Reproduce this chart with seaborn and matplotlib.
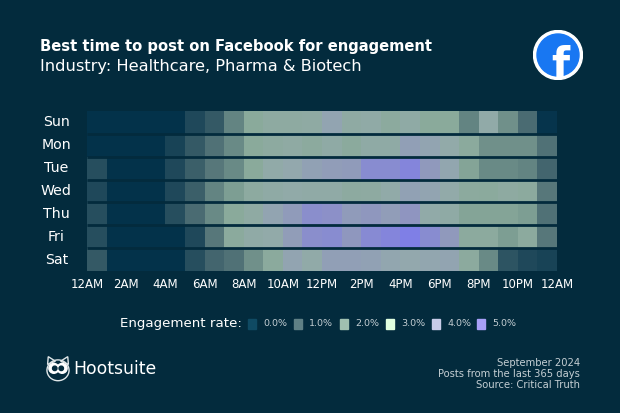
import numpy as np
import pandas as pd
import seaborn as sns
import matplotlib.pyplot as plt
from matplotlib.colors import LinearSegmentedColormap
from matplotlib.patches import Circle, Ellipse, Polygon, Rectangle

days = ['Sun', 'Mon', 'Tue', 'Wed', 'Thu', 'Fri', 'Sat']
hour_labels = ['12AM', '2AM', '4AM', '6AM', '8AM', '10AM', '12PM', '2PM', '4PM',
               '6PM', '8PM', '10PM', '12AM']

# engagement rate per hour
sun = [0, 0, 0, 0, 0, .4, .7, 1.4, 2.0, 2.4, 2.4, 2.5, 3.3, 2.5, 2.7, 2.2, 2.6, 2.0, 2.0, 1.4, 2.8, 1.6, 1.0, .05]
mon = [0, 0, 0, 0, .3, .7, 1.1, 1.5, 2.0, 2.3, 2.5, 2.2, 2.6, 2.1, 2.6, 2.6, 3.5, 3.3, 2.9, 2.1, 1.6, 1.6, 1.6, 1.1]
tue = [.5, 0, 0, 0, .4, .8, 1.2, 1.5, 2.0, 2.8, 3.1, 3.4, 3.6, 3.7, 4.4, 4.4, 4.7, 3.8, 3.2, 1.9, 1.5, 1.5, 1.4, .9]
wed = [.4, 0, 0, 0, .4, .8, 1.4, 1.8, 2.3, 2.6, 2.8, 2.7, 2.7, 2.3, 2.4, 2.8, 3.4, 3.3, 2.9, 2.2, 2.1, 2.4, 2.2, 1.2]
thu = [.5, 0, 0, 0, .5, 1.0, 1.5, 2.0, 2.5, 3.3, 3.7, 4.3, 4.2, 3.7, 3.9, 3.6, 4.0, 2.8, 2.6, 1.9, 1.9, 1.9, 1.8, 1.1]
fri = [.5, 0, 0, 0, 0, .4, 1.2, 2.1, 2.7, 2.9, 3.6, 4.3, 4.4, 3.9, 4.5, 4.7, 5.0, 4.4, 3.8, 2.2, 2.2, 1.8, 2.2, 1.2]
sat = [.7, 0, 0, 0, 0, .5, .9, 1.1, 1.6, 2.1, 3.3, 2.8, 3.5, 3.5, 3.4, 3.2, 3.1, 3.2, 3.3, 2.2, 1.5, .6, .4, .3]

legend_labels = ['0.0%', '1.0%', '2.0%', '3.0%', '4.0%', '5.0%']
legend_colors = ['#0f4a63', '#5f8085', '#a0c0b0', '#e0ffe0', '#c8cce8', '#a8a0f8']
cell_colors = ['#03324a', '#4a6b72', '#8aaa9b', '#93aaab', '#8f95c0', '#7f7fe6']

BG = '#032b3d'
W, H = 620, 413


def fx(px):
    return px / W


def fy(px):
    return 1 - px / H


sns.set_theme(style='white')
plt.rcParams['font.family'] = ['DejaVu Sans']

df = pd.DataFrame([sun, mon, tue, wed, thu, fri, sat], index=days)
cmap = LinearSegmentedColormap.from_list('engagement', cell_colors)

fig = plt.figure(figsize=(6.2, 4.13), dpi=100, facecolor=BG)
ax = fig.add_axes([fx(87), fy(271), fx(557) - fx(87), fy(111) - fy(271)])
sns.heatmap(df, ax=ax, cmap=cmap, vmin=0, vmax=5, cbar=False)

ax.hlines(range(1, len(days)), 0, 24, color=BG, linewidth=2)
ax.set_xticks(np.arange(0, 25, 2))
ax.set_xticklabels(hour_labels, rotation=0, color='white', fontsize=8.5)
ax.set_yticklabels(days, rotation=0, color='white', fontsize=10.2, ha='center')
ax.tick_params(length=0)
ax.tick_params(axis='x', pad=5)
ax.tick_params(axis='y', pad=22)
ax.set_xlabel('')
ax.set_ylabel('')

# titles
fig.text(fx(40), fy(47), 'Best time to post on Facebook for engagement', color='white',
         fontsize=10.6, fontweight='bold', va='center')
fig.text(fx(40), fy(66), 'Industry: Healthcare, Pharma & Biotech', color='white',
         fontsize=11.7, va='center')

# legend
fig.text(fx(120), fy(324), 'Engagement rate:', color='white', fontsize=9.6, va='center')
for x, lab, col in zip([248, 294, 340, 386, 432, 477], legend_labels, legend_colors):
    fig.add_artist(Rectangle((fx(x), fy(329)), 8 / W, 10 / H, color=col, transform=fig.transFigure))
    fig.text(fx(x + 15), fy(324), lab, color='#c4ced3', fontsize=6.8, va='center')

# facebook badge
badge = fig.add_axes([fx(533), fy(80), 50 / W, 50 / H])
badge.set_xlim(-1, 1)
badge.set_ylim(-1, 1)
badge.axis('off')
badge.add_patch(Circle((0, 0), 0.98, color='white'))
inner = Circle((0, 0), 0.84, color='#1877f2')
badge.add_patch(inner)
f_glyph = badge.text(0.08, -0.92, 'f', color='white', fontsize=30, fontweight='bold', ha='center', va='baseline')
f_glyph.set_clip_path(inner)

# hootsuite mark
owl = fig.add_axes([fx(45), fy(382), 26 / W, 26 / H])
owl.set_xlim(-1, 1)
owl.set_ylim(-1, 1)
owl.axis('off')
owl.add_patch(Ellipse((0, -0.1), 1.7, 1.6, fill=False, ec='#dfe6e8', lw=1))
owl.add_patch(Polygon([(-0.8, 0.35), (-0.75, 0.95), (-0.2, 0.6)], fill=False, ec='#dfe6e8', lw=1))
owl.add_patch(Polygon([(0.8, 0.35), (0.75, 0.95), (0.2, 0.6)], fill=False, ec='#dfe6e8', lw=1))
owl.add_patch(Circle((-0.32, 0.05), 0.38, color='white'))
owl.add_patch(Circle((0.32, 0.05), 0.38, color='white'))
owl.add_patch(Circle((-0.25, 0.05), 0.17, color=BG))
owl.add_patch(Circle((0.25, 0.05), 0.17, color=BG))
fig.text(fx(73), fy(369), 'Hootsuite', color='white', fontsize=12.4, va='center')

# source note
for y, line in zip([363, 374, 385], ['September 2024', 'Posts from the last 365 days', 'Source: Critical Truth']):
    fig.text(fx(580), fy(y), line, color='#c4ced3', fontsize=7.2, ha='right', va='center')

fig.savefig('out.png', dpi=100, facecolor=BG)
